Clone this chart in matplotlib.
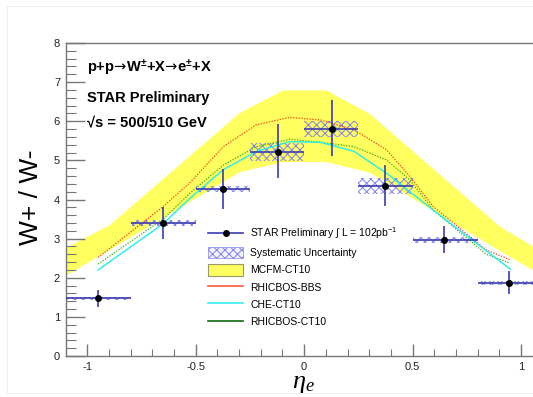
import matplotlib
matplotlib.use("Agg")
import matplotlib.pyplot as plt
from matplotlib.patches import Rectangle, Patch
from matplotlib.lines import Line2D
from matplotlib.ticker import MultipleLocator

plt.rcParams['font.family'] = ['Liberation Sans', 'DejaVu Sans']
plt.rcParams['mathtext.fontset'] = 'custom'
plt.rcParams['mathtext.rm'] = 'Liberation Sans'
plt.rcParams['mathtext.bf'] = 'Liberation Sans:bold'
plt.rcParams['mathtext.sf'] = 'DejaVu Sans'
plt.rcParams['mathtext.it'] = 'Liberation Serif:italic'
plt.rcParams['hatch.linewidth'] = 0.7

# ---- data ----
eta = [-0.95, -0.65, -0.375, -0.12, 0.13, 0.373, 0.645, 0.945]
ratio = [1.47, 3.40, 4.27, 5.22, 5.81, 4.35, 2.96, 1.86]
err_lo = [0.22, 0.42, 0.52, 0.68, 0.71, 0.51, 0.33, 0.28]
err_hi = [0.22, 0.42, 0.51, 0.70, 0.74, 0.53, 0.35, 0.30]
bin_lo = [-1.1, -0.8, -0.5, -0.25, 0.0, 0.25, 0.5, 0.8]
bin_hi = [-0.8, -0.5, -0.25, 0.0, 0.25, 0.5, 0.8, 1.1]
sys_err = [0.05, 0.065, 0.085, 0.225, 0.2, 0.2, 0.077, 0.055]

band_eta = [-1.1, -0.9, -0.3, -0.1, 0.1, 0.3, 0.9, 1.1]
band_hi = [2.78, 3.35, 6.22, 6.8, 6.8, 6.2, 3.32, 2.65]
band_lo = [2.07, 2.72, 4.71, 4.97, 4.97, 4.70, 2.70, 2.05]

bbs_eta = [-0.95, -0.65, -0.527, -0.373, -0.22, -0.066, 0.077, 0.23, 0.38, 0.487, 0.595, 0.84, 0.95]
bbs_val = [2.52, 3.82, 4.43, 5.35, 5.91, 6.10, 6.03, 5.78, 5.27, 4.59, 3.82, 2.71, 2.46]
ct10_eta = [-0.95, -0.65, -0.527, -0.373, -0.22, -0.066, 0.077, 0.23, 0.38, 0.487, 0.595, 0.84, 0.95]
ct10_val = [2.35, 3.50, 4.16, 4.88, 5.35, 5.54, 5.46, 5.35, 5.01, 4.50, 3.73, 2.60, 2.37]
che_eta = [-0.95, -0.65, -0.527, -0.373, -0.22, -0.066, 0.077, 0.23, 0.38, 0.487, 0.595, 0.72, 0.95]
che_val = [2.20, 3.38, 4.03, 4.76, 5.23, 5.48, 5.46, 5.23, 4.67, 4.20, 3.73, 3.20, 2.22]

xticks = [-1, -0.5, 0, 0.5, 1]
xticklabels = ['-1', '-0.5', '0', '0.5', '1']

# ---- figure ----
fig = plt.figure(figsize=(5.33, 3.97), dpi=100)
fig.patches.append(Rectangle((7/533, 4/397), 0.99, 1 - 10/397, transform=fig.transFigure,
                             fill=False, edgecolor='#eeeeee', lw=0.8))
ax = fig.add_axes([65.6/533, 41/397, 477.1/533, 313/397])
ax.set_xlim(-1.1, 1.1)
ax.set_ylim(0, 8)

yellow = '#ffff5f'
ax.fill_between(band_eta, band_lo, band_hi, color=yellow, lw=0, zorder=1)

hatch_col = '#8080f0'
for lo, hi, y, s in zip(bin_lo, bin_hi, ratio, sys_err):
    ax.add_patch(Rectangle((lo, y - s), hi - lo, 2 * s, facecolor='none',
                           edgecolor=hatch_col, lw=0, hatch='xxxx', zorder=2))

ax.plot(bbs_eta, bbs_val, color='#ff3b1a', lw=0.9, ls=(0, (1, 1.2)), zorder=3)
ax.plot(ct10_eta, ct10_val, color='#3aaa10', lw=0.9, ls=(0, (1, 1.2)), zorder=3)
ax.plot(che_eta, che_val, color='#22eeee', lw=1.0, zorder=3)

xerr_lo = [e - l for e, l in zip(eta, bin_lo)]
xerr_hi = [h - e for e, h in zip(eta, bin_hi)]
ax.errorbar(eta, ratio, yerr=[err_lo, err_hi], xerr=[xerr_lo, xerr_hi], fmt='o',
            color='black', ms=4, ecolor='#3c3cb4', elinewidth=1.2, capsize=0, zorder=4)

# axes styling
for sp in ['top', 'bottom', 'left', 'right']:
    ax.spines[sp].set_color('#777777')
    ax.spines[sp].set_linewidth(1.0)
ax.set_xticks(xticks)
ax.set_xticklabels(xticklabels)
ax.xaxis.set_minor_locator(MultipleLocator(0.1))
ax.yaxis.set_major_locator(MultipleLocator(1))
ax.yaxis.set_minor_locator(MultipleLocator(0.2))
ax.tick_params(axis='both', which='major', direction='in', color='#777777', labelsize=8,
               labelcolor='#222222', top=False, right=False)
ax.tick_params(axis='y', which='major', length=14, width=1.0, pad=4)
ax.tick_params(axis='y', which='minor', direction='in', length=7, width=0.8, color='#777777')
ax.tick_params(axis='x', which='major', length=9, width=1.0, pad=4)
ax.tick_params(axis='x', which='minor', direction='in', length=5, width=0.8, color='#777777')

# texts
fig.text(87/533, 1 - 72.3/397,
         r'p+p$\!\mathsf{\rightarrow}\!$W$^{\mathbf{\pm}}$+X$\!\mathsf{\rightarrow}\!$e$^{\mathbf{\pm}}$+X',
         fontsize=10.5, fontweight='bold', va='baseline', ha='left')
fig.text(87/533, 1 - 101.7/397, 'STAR Preliminary', fontsize=10.5, fontweight='bold',
         va='baseline', ha='left')
fig.text(87/533, 1 - 126/397, '√s = 500/510 GeV', fontsize=10.5, fontweight='bold',
         va='baseline', ha='left')
fig.text(31/533, 1 - 197/397, 'W+ / W-', fontsize=19, rotation=90, ha='center', va='center')
fig.text(303/533, 1 - 383/397, r'$\eta_e$', fontsize=19, ha='center', va='center')

# legend
handles = [
    Line2D([], [], color='#3c3cb4', lw=1.2, marker='o', markerfacecolor='black',
           markeredgecolor='black', ms=4),
    Patch(facecolor='#f4f4ff', edgecolor=hatch_col, hatch='xxxx', lw=0.5),
    Patch(facecolor=yellow, edgecolor='#999966', lw=0.8),
    Line2D([], [], color='#ff5a3a', lw=1.2),
    Line2D([], [], color='#33eeee', lw=1.2),
    Line2D([], [], color='#116611', lw=1.2),
]
labels = [r'STAR Preliminary $\int$ L = 102pb$^{-1}$', 'Systematic Uncertainty', 'MCFM-CT10',
          'RHICBOS-BBS', 'CHE-CT10', 'RHICBOS-CT10']
leg = fig.legend(handles, labels, loc='upper left', bbox_to_anchor=(208/533, 1 - 226/397),
                 frameon=False, fontsize=7.5, handlelength=3.4, handleheight=1.3,
                 handletextpad=0.65, labelspacing=0.57, borderpad=0, borderaxespad=0)

fig.savefig('out.png', dpi=100)
